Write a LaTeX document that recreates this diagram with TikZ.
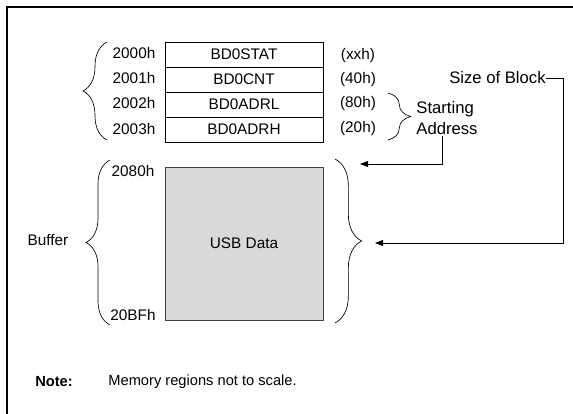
\documentclass[tikz,border=0pt]{standalone}
\usepackage{fontspec}
\setmainfont{Liberation Sans}
\usetikzlibrary{decorations.pathreplacing,arrows.meta}
\definecolor{boxgray}{RGB}{217,217,217}
\begin{document}
\begin{tikzpicture}[x=0.75pt,y=-0.75pt,
  font=\fontsize{11.5}{13}\selectfont,
  line width=0.6pt,
  regbox/.style={draw, minimum width=118.5pt, minimum height=18.75pt, inner sep=0pt},
  lbl/.style={inner sep=0pt},
  biglbl/.style={inner sep=0pt, font=\fontsize{12.5}{15.75}\selectfont},
  brc/.style={decorate, decoration={brace, amplitude=#1}, line width=0.5pt},
  arr/.style={-{Triangle[length=6pt,width=4.5pt]}, line width=0.6pt}]
\useasboundingbox (0,0) rectangle (573,413);
\begin{scope}
\clip (0,0) rectangle (573,413);
\draw[line width=1.6pt] (7,440) -- (7,7) -- (600,7);
\end{scope}
% register table
\node[regbox] (r1) at (244,54.5) {BD0STAT};
\node[regbox] (r2) at (244,79.5) {BD0CNT};
\node[regbox] (r3) at (244,104.5) {BD0ADRL};
\node[regbox] (r4) at (244,129.5) {BD0ADRH};
\node[lbl] (a1) at (134,53) {2000h};
\node[lbl] (a2) at (134,78) {2001h};
\node[lbl] (a3) at (134,103.5) {2002h};
\node[lbl] (a4) at (134,129) {2003h};
\node[lbl] (v1) at (358,56) {(xxh)};
\node[lbl] (v2) at (358,80) {(40h)};
\node[lbl] (v3) at (358,104) {(80h)};
\node[lbl] (v4) at (358,129) {(20h)};
\draw[brc=18pt] (107,140) -- (107,42);
% buffer
\node[draw=black!75, fill=boxgray, minimum width=118.5pt, minimum height=114.75pt, inner sep=0pt] (buf) at (244,243.5) {USB Data};
\node[lbl] (b1) at (133,171) {2080h};
\node[lbl] (b2) at (133,315) {20BFh};
\draw[brc=18pt] (110,325) -- (110,160);
\node[lbl] (bt) at (48,240) {Buffer};
\draw[brc=20pt] (335,159) -- (335,323);
% starting address
\draw[brc=17pt] (388,93) -- (388,140);
\node[biglbl, anchor=west, align=left] (addr) at (416,118.5) {Starting\\Address};
\coordinate (t1) at (360,164);
\draw[arr] ([xshift=-3.5pt]addr.south) |- (t1);
% size of block
\node[biglbl, anchor=east] (sob) at (546,78) {Size of Block};
\coordinate (t2) at (375,243);
\draw[arr] (sob.east) -- ++(17,0) |- (t2);
% note
\node[lbl, font=\fontsize{11}{13}\bfseries] (nt) at (54,382) {Note:};
\node[lbl, anchor=west, font=\fontsize{11}{13}\selectfont] (nm) at (108,382) {Memory regions not to scale.};
\end{tikzpicture}
\end{document}
